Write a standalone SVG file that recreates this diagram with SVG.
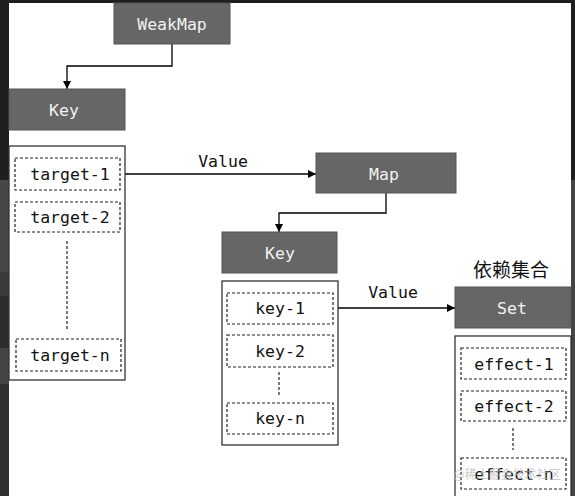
<svg xmlns="http://www.w3.org/2000/svg" width="575" height="496" viewBox="0 0 575 496">
<defs>
<marker id="arr" viewBox="0 0 10 10" refX="10" refY="5" markerWidth="8" markerHeight="8" markerUnits="userSpaceOnUse" orient="auto">
<path d="M0,0 L10,5 L0,10 z" fill="#000"/>
</marker>
<style>
.hdr{fill:#666666;stroke:#555555;stroke-width:1}
.hdrt{font-family:"DejaVu Sans Mono","Liberation Mono",monospace;font-size:16.5px;fill:#f2f2f2;text-anchor:middle;dominant-baseline:central}
.cont{fill:#ffffff;stroke:#333333;stroke-width:1.3}
.item{fill:#ffffff;stroke:#222222;stroke-width:1.2;stroke-dasharray:3 2}
.itt{font-family:"DejaVu Sans Mono","Liberation Mono",monospace;font-size:16.5px;fill:#111;text-anchor:middle;dominant-baseline:central}
.dots{stroke:#222;stroke-width:1.2;stroke-dasharray:3 2;fill:none}
.conn{stroke:#000;stroke-width:1.3;fill:none}
.lbl{font-family:"DejaVu Sans Mono","Liberation Mono",monospace;font-size:16.5px;fill:#111;text-anchor:middle}
</style>
</defs>
<rect x="0" y="0" width="575" height="496" fill="#ffffff"/>
<g id="backdrop">
<rect x="0" y="0" width="575" height="3" fill="#1e1e1e"/>
<rect x="0" y="0" width="9" height="180" fill="#1f1f1f"/>
<rect x="0" y="180" width="9" height="92" fill="#474747"/>
<rect x="0" y="272" width="9" height="24" fill="#3a3a3a"/>
<rect x="0" y="296" width="9" height="52" fill="#2c2c2c"/>
<rect x="0" y="348" width="9" height="36" fill="#444444"/>
<rect x="0" y="384" width="9" height="112" fill="#303030"/>
<rect x="571" y="0" width="4" height="180" fill="#1e1e1e"/>
<rect x="571" y="180" width="4" height="316" fill="#444444"/>
</g>
<g id="connectors">
<path class="conn" d="M172,44 V66 H67 V89" marker-end="url(#arr)"/>
<path class="conn" d="M120,174 H316" marker-end="url(#arr)"/>
<text class="lbl" x="223" y="167">Value</text>
<path class="conn" d="M386,193 V213 H279 V232" marker-end="url(#arr)"/>
<path class="conn" d="M333,308 H455" marker-end="url(#arr)"/>
<text class="lbl" x="393" y="298">Value</text>
</g>
<g id="weakmap">
<rect class="hdr" x="114" y="3" width="116" height="41"/>
<text class="hdrt" x="172" y="24">WeakMap</text>
</g>
<g id="key1">
<rect class="hdr" x="9" y="89" width="116" height="41"/>
<text class="hdrt" x="64" y="110">Key</text>
</g>
<g id="targets">
<rect class="cont" x="9" y="146" width="116" height="234"/>
<rect class="item" x="15" y="158" width="105" height="32"/>
<text class="itt" x="70" y="174">target-1</text>
<rect class="item" x="15" y="202" width="105" height="30"/>
<text class="itt" x="70" y="217">target-2</text>
<line class="dots" x1="67" y1="241" x2="67" y2="330"/>
<rect class="item" x="16" y="339" width="105" height="32"/>
<text class="itt" x="70" y="355">target-n</text>
</g>
<g id="map">
<rect class="hdr" x="316" y="153" width="140" height="40"/>
<text class="hdrt" x="384" y="174">Map</text>
</g>
<g id="key2">
<rect class="hdr" x="222" y="232" width="115" height="41"/>
<text class="hdrt" x="280" y="253">Key</text>
</g>
<g id="keys">
<rect class="cont" x="222" y="281" width="116" height="164"/>
<rect class="item" x="227" y="293" width="106" height="31"/>
<text class="itt" x="280" y="308">key-1</text>
<rect class="item" x="227" y="335" width="106" height="32"/>
<text class="itt" x="280" y="351">key-2</text>
<line class="dots" x1="279" y1="372" x2="279" y2="396"/>
<rect class="item" x="227" y="403" width="106" height="31"/>
<text class="itt" x="280" y="418">key-n</text>
</g>
<g id="set">
<text x="511" y="277" font-family="'Noto Sans CJK SC',sans-serif" font-size="19" fill="#111" text-anchor="middle">依赖集合</text>
<rect class="hdr" x="455" y="287" width="116" height="41"/>
<text class="hdrt" x="512" y="308">Set</text>
</g>
<g id="effects">
<rect class="cont" x="455" y="336" width="116" height="170"/>
<rect class="item" x="461" y="348" width="105" height="31"/>
<text class="itt" x="514" y="364">effect-1</text>
<rect class="item" x="461" y="391" width="105" height="30"/>
<text class="itt" x="514" y="406">effect-2</text>
<line class="dots" x1="513" y1="428" x2="513" y2="450"/>
<rect class="item" x="461" y="458" width="105" height="31"/>
<text class="itt" x="514" y="474">effect-n</text>
</g>
<text x="507" y="479" font-family="'Noto Sans CJK SC',sans-serif" font-size="12" fill="#bbbbbb" fill-opacity="0.8" text-anchor="middle">@稀土掘金技术社区</text>
</svg>
